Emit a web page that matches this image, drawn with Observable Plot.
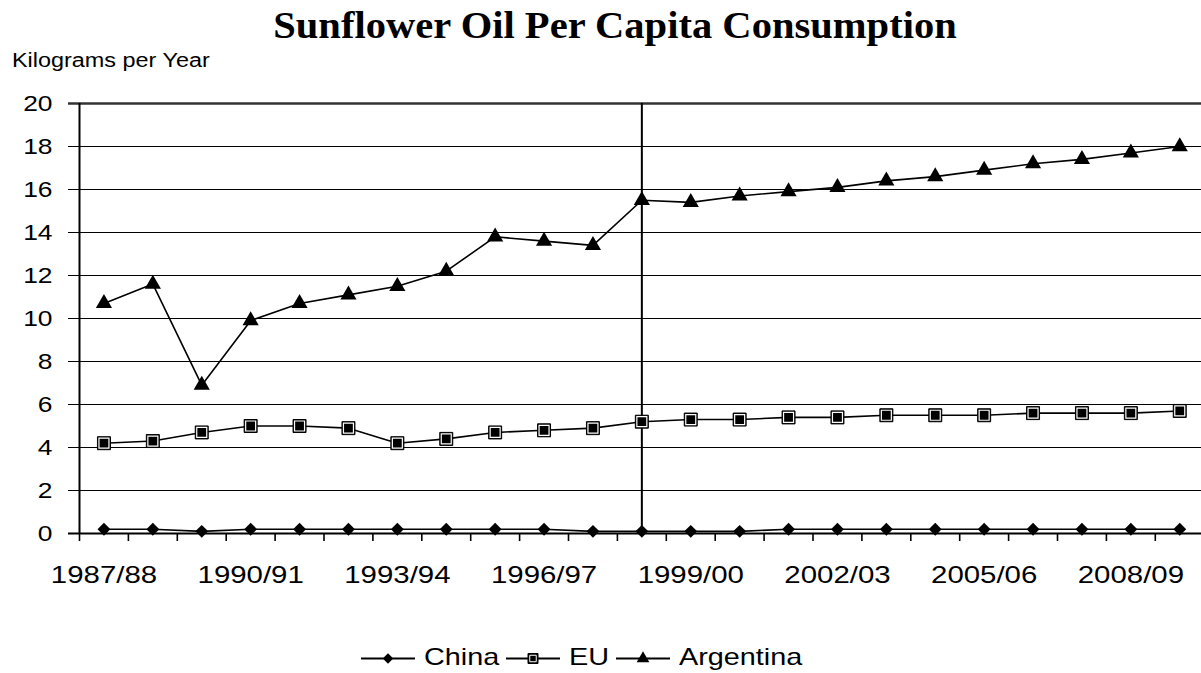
<!DOCTYPE html>
<html>
<head>
<meta charset="utf-8">
<script src="https://cdn.jsdelivr.net/npm/d3@7"></script>
<script src="https://cdn.jsdelivr.net/npm/@observablehq/plot@0.6"></script>
<style>
  html, body { margin: 0; padding: 0; background: #fff; overflow: hidden; }
  #wrap { position: relative; width: 1201px; height: 673px; overflow: hidden;
          font-family: "Liberation Sans", Arial, sans-serif; color: #000; }
  #head { position: relative; height: 80px; }
  #title { position: absolute; left: 615px; top: 7px; white-space: nowrap;
           font-family: "Liberation Serif", "Times New Roman", serif; font-weight: bold;
           font-size: 37px; line-height: 37px; transform: translateX(-50%) scaleX(1.096); }
  #ylab { position: absolute; left: 12px; top: 50.5px; white-space: nowrap;
          font-size: 19.5px; line-height: 19.5px; transform: scaleX(1.2); transform-origin: left center; }
  #legend { position: absolute; left: 361px; top: 644.7px; height: 26px; width: 800px; }
  #legend span { position: absolute; top: 0; white-space: nowrap; font-size: 24px; line-height: 24px;
                 transform: scaleX(1.2); transform-origin: left center; }
  #legend svg { position: absolute; top: 0; overflow: visible; }
</style>
</head>
<body>
<div id="wrap">
  <div id="head">
    <div id="title"></div>
    <div id="ylab"></div>
  </div>
  <div id="chart"></div>
  <div id="legend"></div>
</div>
<script>
// ---------------- data ----------------
const titleText = "Sunflower Oil Per Capita Consumption";
const yAxisTitle = "Kilograms per Year";

const categories = ["1987/88","1988/89","1989/90","1990/91","1991/92","1992/93","1993/94","1994/95",
  "1995/96","1996/97","1997/98","1998/99","1999/00","2000/01","2001/02","2002/03","2003/04",
  "2004/05","2005/06","2006/07","2007/08","2008/09","2009/10"];

const xTickLabels = ["1987/88","1990/91","1993/94","1996/97","1999/00","2002/03","2005/06","2008/09"];
const yTicks = [0, 2, 4, 6, 8, 10, 12, 14, 16, 18, 20];
const dividerCategory = "1998/99";

const seriesNames = ["China", "EU", "Argentina"];
const china = [0.2,0.2,0.1,0.2,0.2,0.2,0.2,0.2,0.2,0.2,0.1,0.1,0.1,0.1,0.2,0.2,0.2,0.2,0.2,0.2,0.2,0.2,0.2];
const eu = [4.2,4.3,4.7,5.0,5.0,4.9,4.2,4.4,4.7,4.8,4.9,5.2,5.3,5.3,5.4,5.4,5.5,5.5,5.5,5.6,5.6,5.6,5.7];
const argentina = [10.7,11.6,6.9,9.9,10.7,11.1,11.5,12.2,13.8,13.6,13.4,15.5,15.4,15.7,15.9,16.1,16.4,16.6,16.9,17.2,17.4,17.7,18.0];

// ---------------- build ----------------
document.getElementById("title").textContent = titleText;
document.getElementById("ylab").textContent = yAxisTitle;

const seriesValues = {China: china, EU: eu, Argentina: argentina};
const rows = [];
seriesNames.forEach(name => seriesValues[name].forEach((v, i) => rows.push({series: name, i, value: v})));
const only = name => rows.filter(d => d.series === name);

const n = categories.length;
const boundaries = d3.range(n + 1).map(k => k - 0.5);
const labelIdx = xTickLabels.map(l => categories.indexOf(l));
const gridTicks = yTicks.filter(t => t !== yTicks[0] && t !== yTicks[yTicks.length - 1]);
const yMin = yTicks[0], yMax = yTicks[yTicks.length - 1];

const left = 79, step = 48.9;

const chart = Plot.plot({
  width: 1201,
  height: 560,
  marginTop: 23,
  marginBottom: 107,
  marginLeft: left,
  marginRight: 0,
  style: {fontFamily: '"Liberation Sans", Arial, sans-serif', color: "#000", background: "#fff"},
  x: {type: "linear", domain: [-0.5, n - 0.5], range: [left, left + n * step]},
  y: {domain: [yMin, yMax]},
  marks: [
    Plot.ruleY(gridTicks, {stroke: "#000", strokeWidth: 1.2, insetLeft: -11}),
    Plot.ruleY([yMax], {stroke: "#333", strokeWidth: 2.5, insetLeft: -11}),
    Plot.ruleX([categories.indexOf(dividerCategory)], {y1: yMin, y2: yMax, stroke: "#000", strokeWidth: 2}),
    Plot.ruleX([boundaries[0]], {y1: yMin, y2: yMax, stroke: "#000", strokeWidth: 2}),
    Plot.ruleX(boundaries, {y1: yMin, y2: yMin, insetBottom: -8, stroke: "#000", strokeWidth: 1.6}),
    Plot.ruleY([yMin], {stroke: "#000", strokeWidth: 2, insetLeft: -11}),
    Plot.axisY({ticks: yTicks, tickSize: 0, tickPadding: 27, fontSize: 22, label: null}),
    Plot.axisX({ticks: labelIdx, tickSize: 0, tickPadding: 32, fontSize: 24.5, label: null,
                tickFormat: i => categories[i]}),
    Plot.line(rows, {x: "i", y: "value", z: "series", stroke: "#000", strokeWidth: 1.6}),
    Plot.dot(only("China"), {x: "i", y: "value", symbol: "diamond2", r: 5.8, fill: "#000"}),
    Plot.dot(only("EU"), {x: "i", y: "value", symbol: "square", r: 7.33, fill: "#000", stroke: "#000", strokeWidth: 1}),
    Plot.dot(only("EU"), {x: "i", y: "value", symbol: "square", r: 5.64, fill: "#000", stroke: "#fff", strokeWidth: 1.2}),
    Plot.dot(only("Argentina"), {x: "i", y: "value", symbol: "triangle", r: 6, fill: "#000"})
  ]
});
document.getElementById("chart").appendChild(chart);

// widen tick-label glyphs horizontally (reference uses a wide sans rendering)
d3.select(chart).selectAll("text").each(function () {
  const len = this.getComputedTextLength();
  if (len > 0) {
    this.setAttribute("textLength", (len * 1.2).toFixed(2));
    this.setAttribute("lengthAdjust", "spacingAndGlyphs");
  }
});

// ---------------- legend ----------------
const legend = document.getElementById("legend");
const svgns = "http://www.w3.org/2000/svg";
const legendSymbols = {
  China: [{type: d3.symbolDiamond2, size: 70, fill: "#000", stroke: "none", sw: 0}],
  EU: [{type: d3.symbolSquare, size: 100, fill: "#000", stroke: "#000", sw: 1},
       {type: d3.symbolSquare, size: 42, fill: "#000", stroke: "#fff", sw: 1}],
  Argentina: [{type: d3.symbolTriangle, size: 70, fill: "#000", stroke: "none", sw: 0}]
};
let xpos = 0;
seriesNames.forEach(name => {
  const sw = document.createElementNS(svgns, "svg");
  sw.setAttribute("width", 54); sw.setAttribute("height", 26);
  sw.style.left = xpos + "px";
  const g = d3.select(sw);
  g.append("line").attr("x1", 0).attr("x2", 54).attr("y1", 13.5).attr("y2", 13.5)
    .attr("stroke", "#000").attr("stroke-width", 2);
  legendSymbols[name].forEach(s => {
    g.append("path").attr("d", d3.symbol(s.type, s.size)())
      .attr("transform", "translate(27,13.5)")
      .attr("fill", s.fill).attr("stroke", s.stroke).attr("stroke-width", s.sw);
  });
  legend.appendChild(sw);
  xpos += 54 + 9;
  const span = document.createElement("span");
  span.textContent = name;
  span.style.left = xpos + "px";
  legend.appendChild(span);
  xpos += span.getBoundingClientRect().width + 7;
});
</script>
</body>
</html>
